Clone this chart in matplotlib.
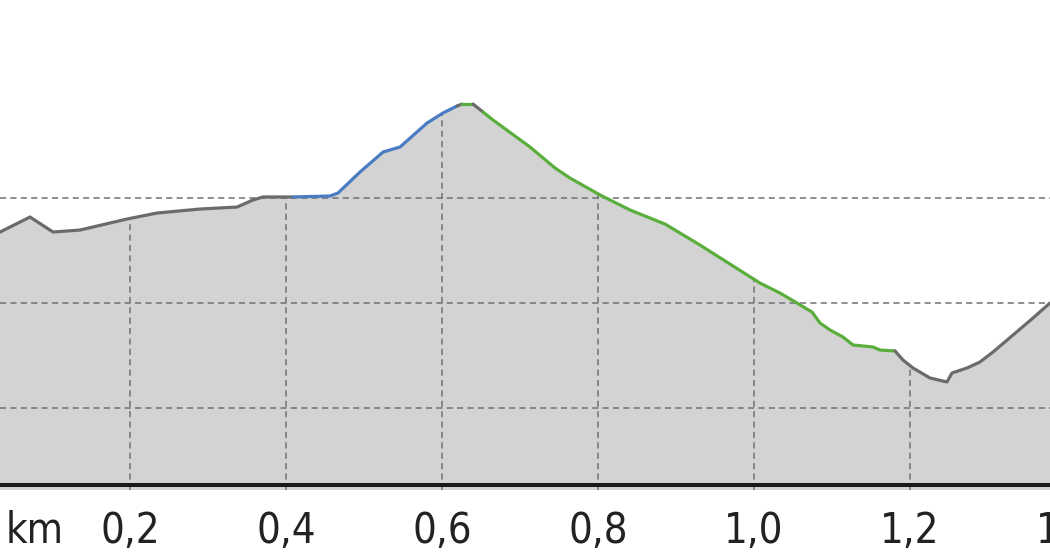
import matplotlib.pyplot as plt
import numpy as np
from matplotlib.patches import Polygon

# profile data (distance in km, elevation in m)
dist_km = [0.0333, 0.0718, 0.1013, 0.1359, 0.1962, 0.2346, 0.2897, 0.3372, 0.3577, 0.3705,
           0.4090, 0.4564, 0.4667, 0.4949, 0.5244, 0.5462, 0.5808, 0.6013, 0.6192, 0.6256,
           0.6397, 0.6526, 0.6654, 0.7128, 0.7449, 0.7641, 0.8026, 0.8410, 0.8731, 0.8859,
           0.9308, 0.9692, 1.0077, 1.0333, 1.0551, 1.0744, 1.0846, 1.0974, 1.1141, 1.1269,
           1.1526, 1.1615, 1.1808, 1.1910, 1.2038, 1.2256, 1.2474, 1.2538, 1.2731, 1.2897,
           1.3064, 1.3321, 1.3577, 1.3795]
elev_m = [116.76, 118.19, 116.76, 116.95, 118.00, 118.57, 118.95, 119.14, 119.81, 120.10,
          120.10, 120.19, 120.48, 122.48, 124.38, 124.86, 127.14, 128.10, 128.76, 128.95,
          128.95, 128.19, 127.43, 124.86, 122.86, 121.90, 120.29, 118.86, 117.90, 117.52,
          115.52, 113.71, 111.90, 110.95, 110.00, 109.14, 108.10, 107.43, 106.76, 106.00,
          105.81, 105.52, 105.43, 104.57, 103.81, 102.86, 102.48, 103.33, 103.81, 104.38,
          105.33, 106.95, 108.57, 110.00]

# coloured sections: (start index, end index, kind)
sections = [(0, 10, "flat"), (10, 18, "up"), (18, 19, "flat"), (19, 20, "down"),
            (20, 21, "flat"), (21, 42, "down"), (42, 53, "flat")]
colors = {"flat": "#6b6b6b", "up": "#4a7cc4", "down": "#5aae3c"}

x_ticks = [0.2, 0.4, 0.6, 0.8, 1.0, 1.2, 1.4]
x_labels = ["0,2", "0,4", "0,6", "0,8", "1,0", "1,2", "1,4"]
unit_label = "km"
unit_pos = 0.078
y_grid = [100, 110, 120]
base_elev = 92.67

x = np.array(dist_km)
y = np.array(elev_m)

fig = plt.figure(figsize=(10.5, 5.6), dpi=100)
ax = fig.add_axes([0, 1 - 490 / 560, 1, 490 / 560])
ax.set_xticks([])
ax.set_yticks([])
ax.set_xlim(x[0], x[-1])
ax.set_ylim(92.19, 138.86)
for s in ax.spines.values():
    s.set_visible(False)

y0 = ax.get_ylim()[0]
poly = np.column_stack([np.r_[x[0], x, x[-1]], np.r_[y0, y, y0]])
fill = Polygon(poly, closed=True, facecolor="#d3d3d3", edgecolor="none", zorder=1)
ax.add_patch(fill)

grid_style = dict(color="#707070", linewidth=1.1, linestyle=(0, (4, 2.8)))
for gy in y_grid:
    ax.axhline(gy, zorder=2, **grid_style)
for gx in x_ticks:
    vl = ax.axvline(gx, zorder=2, **grid_style)
    vl.set_clip_path(fill)

for i0, i1, kind in sections:
    ax.plot(x[i0:i1 + 1], y[i0:i1 + 1], color=colors[kind], linewidth=2.3,
            solid_capstyle="round", solid_joinstyle="round", zorder=3)

# base line of the profile
ax.axhline(base_elev, color="#1a1a1a", linewidth=2.9, zorder=4)

# distance labels
label_style = dict(xycoords=ax.get_xaxis_transform(), xytext=(0, -38),
                   textcoords="offset points", ha="center", va="baseline",
                   fontsize=30, fontstretch="condensed", color="#222222",
                   annotation_clip=False)
for tx, tl in zip(x_ticks, x_labels):
    ax.annotate(tl, xy=(tx, 0), **label_style)
ax.annotate(unit_label, xy=(unit_pos, 0), **label_style)

fig.savefig("out.png", dpi=100)
